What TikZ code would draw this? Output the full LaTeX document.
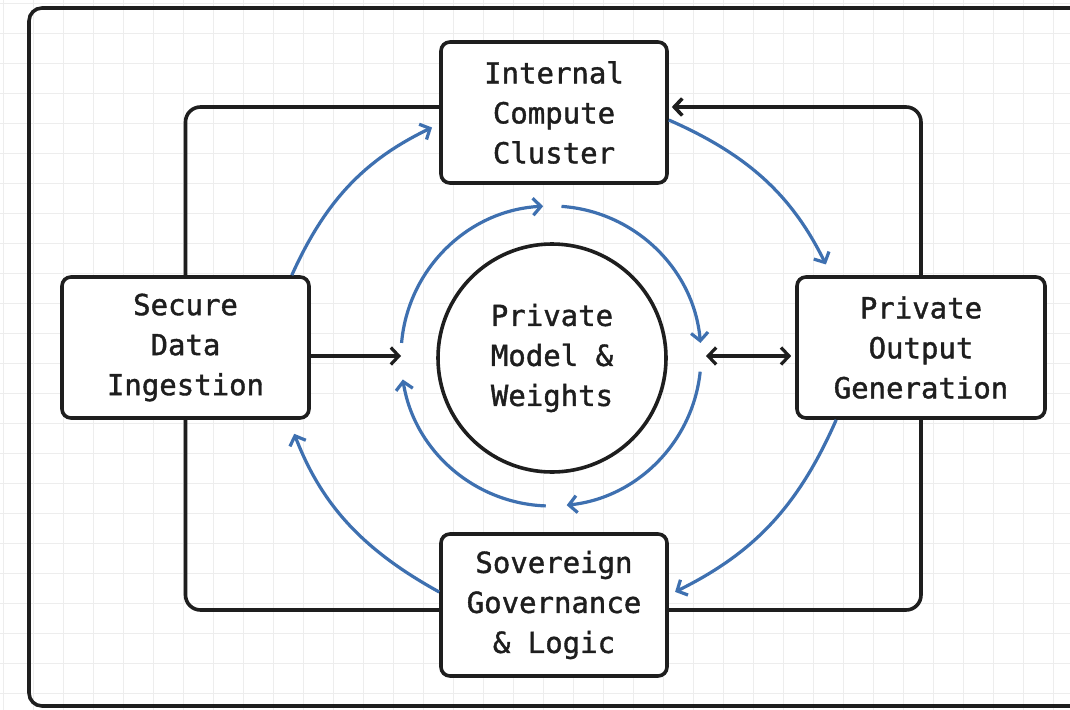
\documentclass[tikz,border=0pt]{standalone}
\usepackage{fontspec}
\newfontfamily\labelfont{DejaVu Sans Mono}[RawFeature={embolden=1.3}]
\usetikzlibrary{arrows.meta}
\definecolor{ink}{HTML}{1E1E1E}
\definecolor{flow}{RGB}{62,112,176}
\definecolor{gridc}{HTML}{EDEDED}

\begin{document}
\begin{tikzpicture}[x=1pt,y=1pt,
  label font/.style={font=\fontsize{29}{40}\selectfont\labelfont},
  box/.style={draw=ink, line width=3.6pt, rounded corners=9pt, fill=white,
    align=center, label font, text=ink, inner sep=0pt},
  core/.style={circle, draw=ink, line width=3.6pt, fill=white,
    minimum size=228pt, align=center, label font, text=ink, inner sep=0pt},
  barb/.tip={Straight Barb[length=8pt,width=17pt]},
  loopline/.style={draw=ink, line width=3.6pt, rounded corners=15pt},
  link/.style={draw=ink, line width=3.2pt},
  flowarc/.style={draw=flow, line width=3.2pt, -barb}]

% canvas, grid and outer frame
\useasboundingbox (0,0) rectangle (1070,-709);
\fill[white] (0,0) rectangle (1070,-709);
\begin{scope}
  \clip (0,0) rectangle (1070,-709);
  \draw[gridc, line width=0.8pt, shift={(3,-3)}] (-33,-720) grid[step=30] (1080,30);
  \draw[ink, line width=3.6pt, rounded corners=13pt] (29,-8) rectangle (1120,-706);
\end{scope}

% stages
\node[box, minimum width=226pt, minimum height=141pt] (T) at (554,-112.5) {Internal\\Compute\\Cluster};
\node[box, minimum width=247pt, minimum height=141pt] (L) at (185.5,-347.5) {Secure\\Data\\Ingestion};
\node[box, minimum width=248pt, minimum height=141pt] (R) at (921,-347.5) {Private\\Output\\Generation};
\node[box, minimum width=226pt, minimum height=142pt] (B) at (554,-605) {Sovereign\\Governance\\\& Logic};
\node[core] (C) at (552,-358) {Private\\Model \&\\Weights};

% outer black loop
\draw[loopline, -barb, shorten >=3pt] (R.north) |- ([yshift=5.5pt]T.east);
\draw[loopline] ([yshift=5.5pt]T.west) -| (L.north);
\draw[loopline] (L.south) |- ([yshift=-5pt]B.west);
\draw[loopline] ([yshift=-5pt]B.east) -| (R.south);

% links to the core ring
\coordinate (ring) at (551,-356);
\coordinate (inW) at (401,-356);
\coordinate (inE) at (706,-356);
\draw[link, -barb] (L.east |- inW) -- (inW);
\draw[link, barb-barb, shorten >=4pt] (inE) -- (R.west |- inE);

% inner ring around the core
\draw[flowarc] ([shift={(175:150)}]ring) arc[start angle=175, end angle=93, radius=150];
\draw[flowarc] ([shift={(86:150)}]ring) arc[start angle=86, end angle=5, radius=150];
\draw[flowarc] ([shift={(-6:150)}]ring) arc[start angle=-6, end angle=-84, radius=150];
\draw[flowarc] ([shift={(-92:150)}]ring) arc[start angle=-92, end angle=-171, radius=150];

% outer blue flow between stages
\draw[flowarc, shorten >=8pt] ([xshift=-19pt]L.north east) to[bend left=20] ([yshift=-11.5pt]T.west);
\draw[flowarc, shorten >=12pt] ([yshift=-7.5pt]T.east) to[bend left=20] ([xshift=36pt]R.north west);
\draw[flowarc, shorten >=7pt] ([xshift=41pt]R.south west) to[bend left=20] ([yshift=10pt]B.east);
\draw[flowarc, shorten >=15pt] ([yshift=13pt]B.west) to[bend left=20] ([xshift=-22pt]L.south east);
\end{tikzpicture}
\end{document}
